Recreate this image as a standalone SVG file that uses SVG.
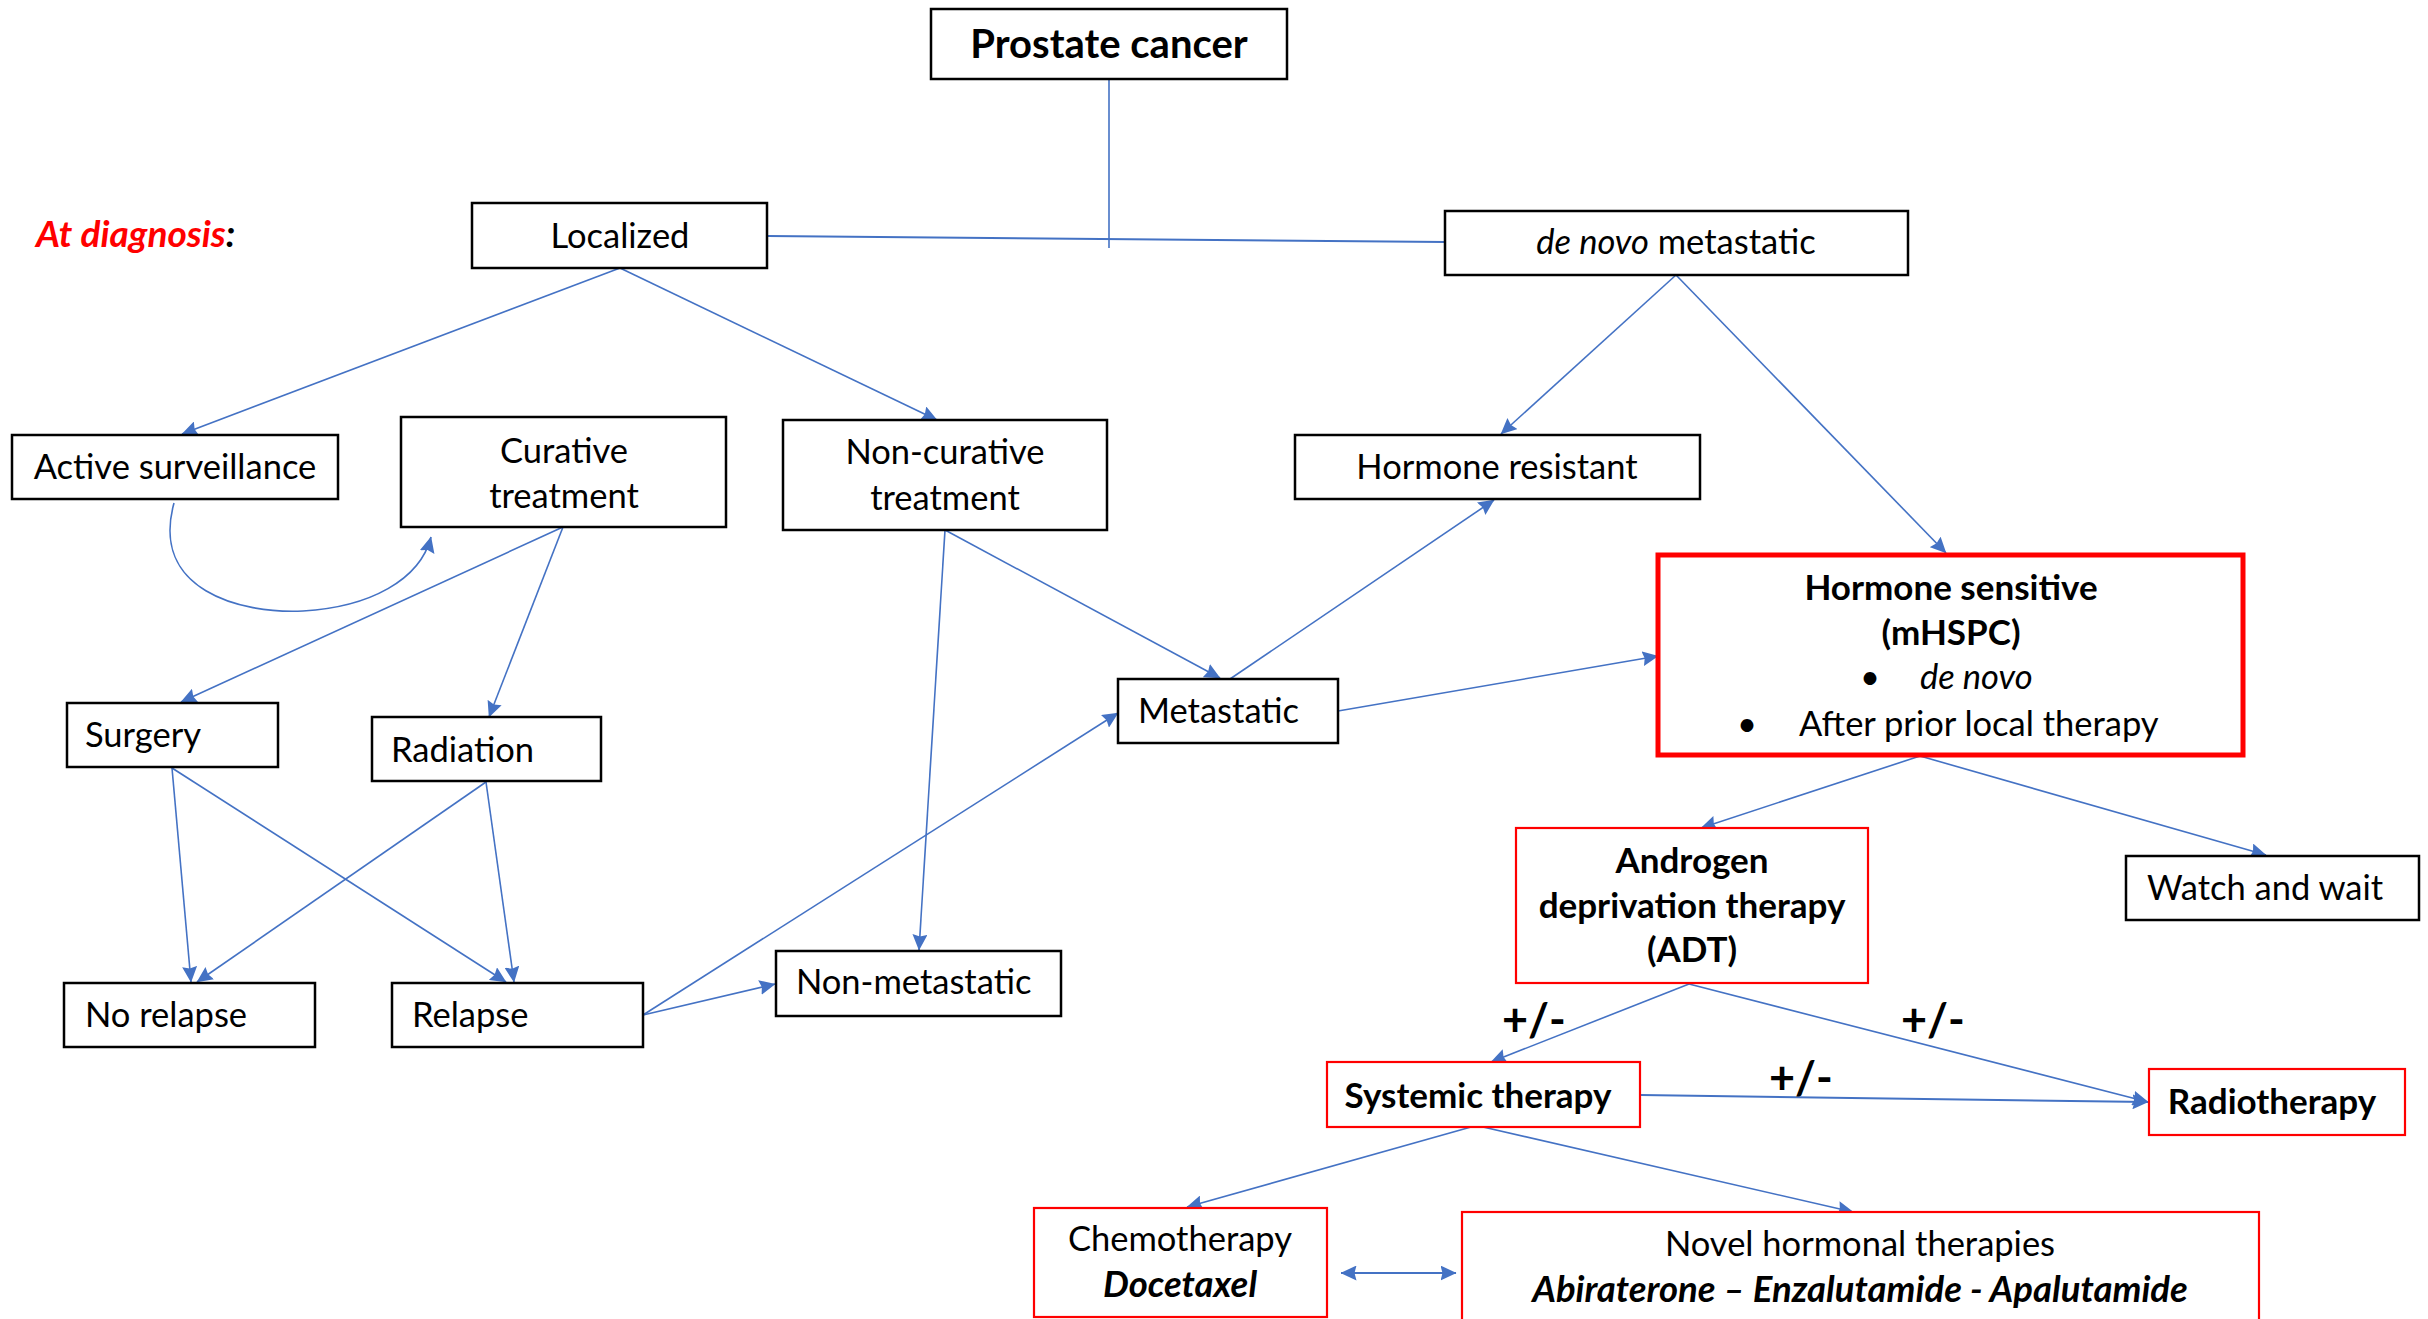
<svg xmlns="http://www.w3.org/2000/svg" width="2428" height="1319" viewBox="0 0 2428 1319">
<defs>
<marker id="ah" markerUnits="userSpaceOnUse" markerWidth="16" markerHeight="15" viewBox="0 0 16 15" refX="15.5" refY="7.5" orient="auto">
<path d="M0,0 L16,7.5 L0,15 L2,7.5 Z" fill="#4472C4"/>
</marker>
<marker id="ahs" markerUnits="userSpaceOnUse" markerWidth="16" markerHeight="15" viewBox="0 0 16 15" refX="0.5" refY="7.5" orient="auto">
<path d="M16,0 L0,7.5 L16,15 L14,7.5 Z" fill="#4472C4"/>
</marker>
<style>
.box{fill:#fff;stroke:#000;stroke-width:2.5}
.rbox{fill:#fff;stroke:#FF0000;stroke-width:2.2}
.rbig{fill:#fff;stroke:#FF0000;stroke-width:5}
text{font-family:Lato,"Open Sans","Liberation Sans",sans-serif;font-size:34.5px;fill:#000}
.c{text-anchor:middle}
.b{font-weight:bold;font-size:35px}
.i{font-style:italic}
.bi{font-weight:bold;font-style:italic;font-size:36.5px}
.pm{font-weight:bold;font-size:45px}
.con line,.con path{stroke:#4472C4;stroke-width:1.6;fill:none}
.con .a{marker-end:url(#ah)}
</style>
</defs>
<rect width="2428" height="1319" fill="#fff"/>

<g class="con" id="connectors">
<line x1="1109" y1="80" x2="1109" y2="248"/>
<line x1="768" y1="236" x2="1445" y2="242" style="stroke-width:2"/>
<line class="a" x1="620" y1="268" x2="182" y2="434"/>
<line class="a" x1="620" y1="268" x2="937" y2="420"/>
<path class="a" d="M174,503 C150,590 240,614 303,611 C370,607 420,580 431,537"/>
<line class="a" x1="563" y1="527" x2="181" y2="702"/>
<line class="a" x1="563" y1="527" x2="489" y2="717"/>
<line class="a" x1="945" y1="530" x2="919" y2="950"/>
<line class="a" x1="945" y1="530" x2="1220" y2="678"/>
<line class="a" x1="1230" y1="679" x2="1494" y2="500"/>
<line class="a" x1="1338" y1="711" x2="1658" y2="656"/>
<line class="a" x1="1676" y1="275" x2="1501" y2="434"/>
<line class="a" x1="1676" y1="275" x2="1946" y2="553"/>
<line class="a" x1="172" y1="768" x2="191" y2="982"/>
<line class="a" x1="172" y1="768" x2="506" y2="982"/>
<line class="a" x1="486" y1="782" x2="197" y2="982"/>
<line class="a" x1="486" y1="782" x2="514" y2="982"/>
<line class="a" x1="643" y1="1015" x2="1118" y2="713"/>
<line class="a" x1="643" y1="1015" x2="775" y2="984"/>
<line class="a" x1="1920" y1="756" x2="1701" y2="828"/>
<line class="a" x1="1920" y1="756" x2="2266" y2="855"/>
<line class="a" x1="1689" y1="984" x2="1491" y2="1062"/>
<line class="a" x1="1689" y1="984" x2="2148" y2="1102"/>
<line class="a" x1="1641" y1="1095" x2="2148" y2="1102" style="stroke-width:2"/>
<line class="a" x1="1471" y1="1127" x2="1187" y2="1207"/>
<line class="a" x1="1483" y1="1127" x2="1853" y2="1212"/>
<line x1="1341" y1="1273" x2="1456" y2="1273" style="stroke-width:2;marker-start:url(#ahs);marker-end:url(#ah)"/>
<text class="pm" x="1502" y="1036">+/-</text>
<text class="pm" x="1901" y="1036">+/-</text>
<text class="pm" x="1769" y="1094">+/-</text>
</g>

<g id="prostate-cancer">
<rect class="box" x="931" y="9" width="356" height="70"/>
<text class="c b" x="1109" y="58" style="font-size:40px">Prostate cancer</text>
</g>

<g id="at-diagnosis">
<text class="bi" x="36" y="247" style="fill:#FF0000;font-size:37px">At diagnosis<tspan style="fill:#000">:</tspan></text>
</g>

<g id="localized">
<rect class="box" x="472" y="203" width="295" height="65"/>
<text class="c" x="620" y="248">Localized</text>
</g>

<g id="de-novo-metastatic">
<rect class="box" x="1445" y="211" width="463" height="64"/>
<text class="c" x="1676" y="254"><tspan class="i">de novo</tspan> metastatic</text>
</g>

<g id="active-surveillance">
<rect class="box" x="12" y="435" width="326" height="64"/>
<text class="c" x="175" y="479">Active surveillance</text>
</g>

<g id="curative-treatment">
<rect class="box" x="401" y="417" width="325" height="110"/>
<text class="c" x="564" y="463">Curative</text>
<text class="c" x="564" y="508">treatment</text>
</g>

<g id="non-curative-treatment">
<rect class="box" x="783" y="420" width="324" height="110"/>
<text class="c" x="945" y="464">Non-curative</text>
<text class="c" x="945" y="510">treatment</text>
</g>

<g id="hormone-resistant">
<rect class="box" x="1295" y="435" width="405" height="64"/>
<text class="c" x="1497" y="479">Hormone resistant</text>
</g>

<g id="hormone-sensitive">
<rect class="rbig" x="1658" y="555" width="585" height="200"/>
<text class="c b" x="1951" y="600">Hormone sensitive</text>
<text class="c b" x="1951" y="645">(mHSPC)</text>
<text x="1860" y="689">•</text>
<text class="i" x="1920" y="689">de novo</text>
<text x="1737" y="736">•</text>
<text x="1799" y="736">After prior local therapy</text>
</g>

<g id="metastatic">
<rect class="box" x="1118" y="679" width="220" height="64"/>
<text x="1138" y="723">Metastatic</text>
</g>

<g id="surgery">
<rect class="box" x="67" y="703" width="211" height="64"/>
<text x="85" y="747">Surgery</text>
</g>

<g id="radiation">
<rect class="box" x="372" y="717" width="229" height="64"/>
<text x="391" y="762">Radiation</text>
</g>

<g id="no-relapse">
<rect class="box" x="64" y="983" width="251" height="64"/>
<text x="85" y="1027">No relapse</text>
</g>

<g id="relapse">
<rect class="box" x="392" y="983" width="251" height="64"/>
<text x="412" y="1027">Relapse</text>
</g>

<g id="non-metastatic">
<rect class="box" x="776" y="951" width="285" height="65"/>
<text x="796" y="994">Non-metastatic</text>
</g>

<g id="adt">
<rect class="rbox" x="1516" y="828" width="352" height="155"/>
<text class="c b" x="1692" y="873">Androgen</text>
<text class="c b" x="1692" y="918">deprivation therapy</text>
<text class="c b" x="1692" y="962">(ADT)</text>
</g>

<g id="watch-and-wait">
<rect class="box" x="2126" y="856" width="293" height="64"/>
<text x="2147" y="900">Watch and wait</text>
</g>

<g id="systemic-therapy">
<rect class="rbox" x="1327" y="1062" width="313" height="65"/>
<text class="c b" x="1478" y="1108">Systemic therapy</text>
</g>

<g id="radiotherapy">
<rect class="rbox" x="2149" y="1069" width="256" height="66"/>
<text class="c b" x="2272" y="1114">Radiotherapy</text>
</g>

<g id="chemotherapy">
<rect class="rbox" x="1034" y="1208" width="293" height="109"/>
<text class="c" x="1180" y="1251">Chemotherapy</text>
<text class="c bi" x="1180" y="1297">Docetaxel</text>
</g>

<g id="novel-hormonal-therapies">
<rect class="rbox" x="1462" y="1212" width="797" height="120"/>
<text class="c" x="1860" y="1256">Novel hormonal therapies</text>
<text class="c bi" x="1860" y="1302">Abiraterone – Enzalutamide - Apalutamide</text>
</g>
</svg>
